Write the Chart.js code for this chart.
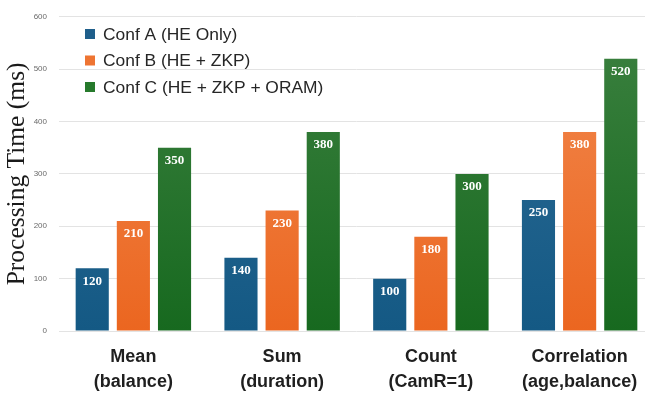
<!DOCTYPE html>
<html>
<head>
<meta charset="utf-8">
<script src="https://cdn.jsdelivr.net/npm/chart.js@4/dist/chart.umd.min.js"></script>
<style>
  html, body { margin: 0; padding: 0; background: #fff; overflow: hidden; }
  #wrap { width: 645px; height: 396px; overflow: hidden; position: relative; }
  #box { width: 654px; height: 396px; position: absolute; left: 0; top: 0; }
</style>
</head>
<body>
<div id="wrap"><div id="box"><canvas id="c"></canvas></div></div>
<script>
// Query types (two-line axis labels)
const categories = [
  ["Mean", "(balance)"],
  ["Sum", "(duration)"],
  ["Count", "(CamR=1)"],
  ["Correlation", "(age,balance)"]
];
const seriesNames = ["Conf A (HE Only)", "Conf B (HE + ZKP)", "Conf C (HE + ZKP + ORAM)"];
const confA = [120, 140, 100, 250];
const confB = [210, 230, 180, 380];
const confC = [350, 380, 300, 520];
const yTicks = [0, 100, 200, 300, 400, 500, 600];

// top / bottom shades for each series
const shades = [
  ["#2f6d97", "#145984"],
  ["#f28a50", "#eb6620"],
  ["#3c8140", "#17691f"]
];
const swatches = ["#1f5f8b", "#ee7432", "#267a2c"];

function gradientFor(i) {
  return (ctx) => {
    const chart = ctx.chart;
    const area = chart.chartArea;
    if (!area) return shades[i][1];
    const g = chart.ctx.createLinearGradient(0, area.top, 0, area.bottom);
    g.addColorStop(0, shades[i][0]);
    g.addColorStop(1, shades[i][1]);
    return g;
  };
}

const values = [confA, confB, confC];

// value printed inside the top of each bar
const barValues = {
  id: "barValues",
  afterDatasetsDraw(chart) {
    const ctx = chart.ctx;
    ctx.save();
    ctx.font = "bold 13px 'Liberation Serif', 'Times New Roman', serif";
    ctx.fillStyle = "#ffffff";
    ctx.textAlign = "center";
    ctx.textBaseline = "middle";
    chart.data.datasets.forEach((ds, di) => {
      chart.getDatasetMeta(di).data.forEach((bar, i) => {
        ctx.fillText(String(ds.data[i]), bar.x, bar.y + 13);
      });
    });
    ctx.restore();
  }
};

// legend drawn inside the plot area, top-left
const innerLegend = {
  id: "innerLegend",
  afterDraw(chart) {
    const ctx = chart.ctx;
    ctx.save();
    ctx.font = "17.4px 'Liberation Sans', Arial, sans-serif";
    ctx.textBaseline = "middle";
    ctx.textAlign = "left";
    chart.data.datasets.forEach((ds, i) => {
      const y = 34 + i * 26.5;
      ctx.fillStyle = swatches[i];
      ctx.fillRect(85, y - 5, 10, 10);
      ctx.fillStyle = "#262626";
      ctx.fillText(ds.label, 103, y + 1);
    });
    ctx.restore();
  }
};

new Chart(document.getElementById("c"), {
  type: "bar",
  data: {
    labels: categories,
    datasets: seriesNames.map((name, i) => ({
      label: name,
      data: values[i],
      backgroundColor: gradientFor(i),
      borderWidth: 0,
      categoryPercentage: 0.83,
      barPercentage: 0.805
    }))
  },
  options: {
    responsive: true,
    maintainAspectRatio: false,
    animation: false,
    layout: { padding: { top: 12, right: 0, left: 0, bottom: 0 } },
    plugins: {
      legend: { display: false },
      tooltip: { enabled: false }
    },
    scales: {
      x: {
        grid: { display: false, drawTicks: false },
        border: { display: false },
        ticks: {
          color: "#1f1f1f",
          padding: 13,
          font: { family: "'Liberation Sans', Arial, sans-serif", size: 18, weight: "bold", lineHeight: 1.4 },
          maxRotation: 0,
          autoSkip: false
        },
        afterFit(scale) { scale.height = 65; }
      },
      y: {
        min: 0,
        max: 600,
        afterBuildTicks(scale) { scale.ticks = yTicks.map(v => ({ value: v })); },
        grid: { color: "#e3e3e3", lineWidth: 1, drawTicks: false },
        border: { display: false },
        ticks: {
          color: "#6a6a6a",
          padding: 12,
          font: { family: "'Liberation Sans', Arial, sans-serif", size: 8 }
        },
        title: {
          display: true,
          text: "Processing Time (ms)",
          color: "#1a1a1a",
          padding: { top: 2, bottom: 0 },
          font: { family: "'Liberation Serif', 'Times New Roman', serif", size: 25.5 }
        },
        afterFit(scale) { scale.width = 59; }
      }
    }
  },
  plugins: [barValues, innerLegend]
});
</script>
</body>
</html>
